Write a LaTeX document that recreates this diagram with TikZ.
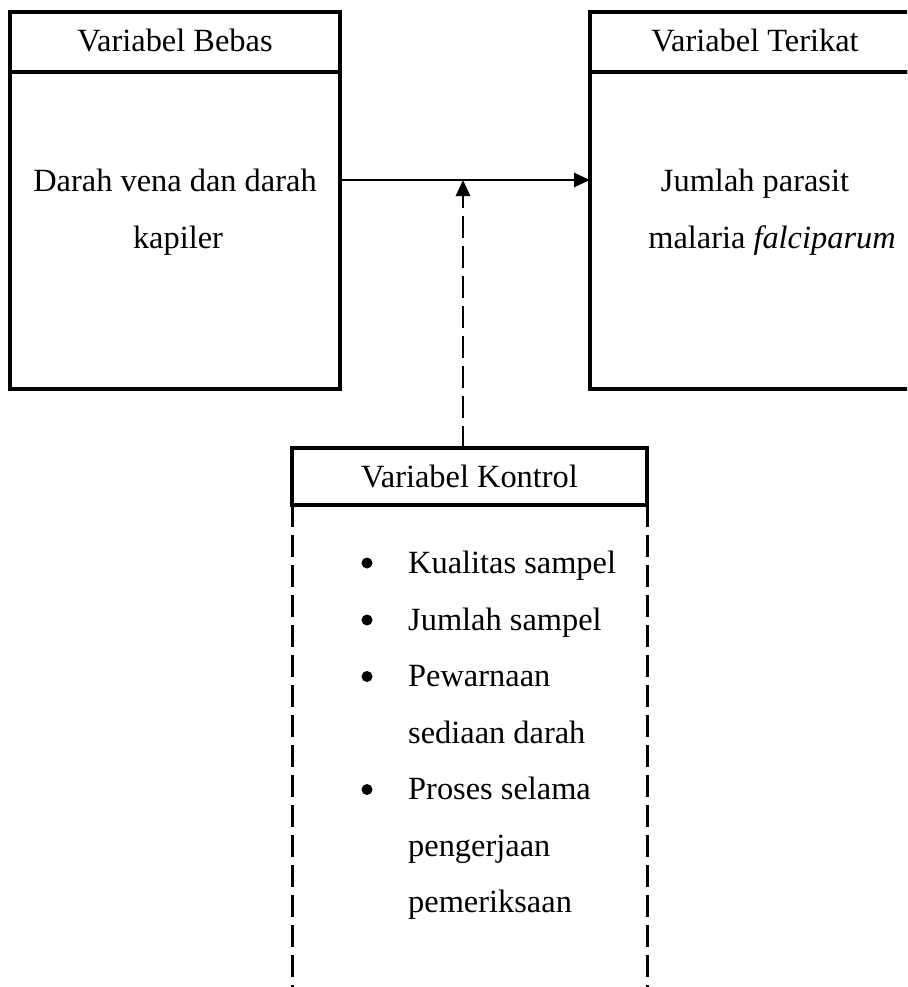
\documentclass[tikz,border=0pt]{standalone}
\usepackage{fontspec}
\setmainfont{Liberation Serif}
\usetikzlibrary{arrows.meta}
\begin{document}
\begin{tikzpicture}[x=1pt,y=-1pt,
  box/.style={draw, line width=3.2pt, rectangle, inner sep=0pt, outer sep=0pt},
  txt/.style={font=\fontsize{32.4}{56.6}\selectfont, inner sep=0pt, anchor=base},
  itm/.style={font=\fontsize{32.4}{56.6}\selectfont, inner sep=0pt, anchor=base west},
  dot/.style={circle, fill, inner sep=0pt, minimum size=11pt},
  arr/.style={line width=2.6pt, -{Triangle[length=16pt,width=14pt]}},
  dsh/.style={line width=3pt, dash pattern=on 22pt off 8pt}]
\clip (0,0) rectangle (907,987);
\fill[white] (0,0) rectangle (907,987);
% boxes
\node[box, minimum width=330pt, minimum height=60pt] (bebasH) at (175,42) {};
\node[box, minimum width=330pt, minimum height=317pt] (bebasB) at (175,230.5) {};
\node[box, minimum width=330pt, minimum height=60pt] (terikatH) at (755,42) {};
\node[box, minimum width=330pt, minimum height=317pt] (terikatB) at (755,230.5) {};
\node[box, minimum width=355pt, minimum height=57pt] (kontrolH) at (469.5,476.5) {};
\coordinate (kbot) at (0,995);
\draw[dsh] (kontrolH.south west) -- (kontrolH.south west |- kbot);
\draw[dsh] (kontrolH.south east) -- (kontrolH.south east |- kbot);
% connectors
\coordinate (mid) at (463,180);
\draw[arr] (bebasB.east |- mid) -- (terikatB.west |- mid);
\draw[arr, dash pattern=on 22pt off 8pt] (mid |- kontrolH.north) -- (mid);
% texts
\node[txt] (hb) at (175,52) {Variabel Bebas};
\node[txt] (ht) at (755,52) {Variabel Terikat};
\node[txt] (hk) at (469.5,487) {Variabel Kontrol};
\node[txt] (b1) at (175,191) {Darah vena dan darah};
\node[txt] (b2) at (178,248) {kapiler};
\node[txt] (t1) at (755,191) {Jumlah parasit};
\node[txt] (t2) at (772,248) {malaria \textit{falciparum}};
% list
\node[dot] (d1) at (367,563) {};
\node[itm] (i1) at (408,573) {Kualitas sampel};
\node[dot] (d2) at (367,620) {};
\node[itm] (i2) at (408,630) {Jumlah sampel};
\node[dot] (d3) at (367,676.5) {};
\node[itm] (i3) at (408,686.5) {Pewarnaan};
\node[itm] (i3b) at (408,743) {sediaan darah};
\node[dot] (d4) at (367,789.5) {};
\node[itm] (i4) at (408,799.5) {Proses selama};
\node[itm] (i4b) at (408,856) {pengerjaan};
\node[itm] (i4c) at (408,912.5) {pemeriksaan};
\end{tikzpicture}
\end{document}
